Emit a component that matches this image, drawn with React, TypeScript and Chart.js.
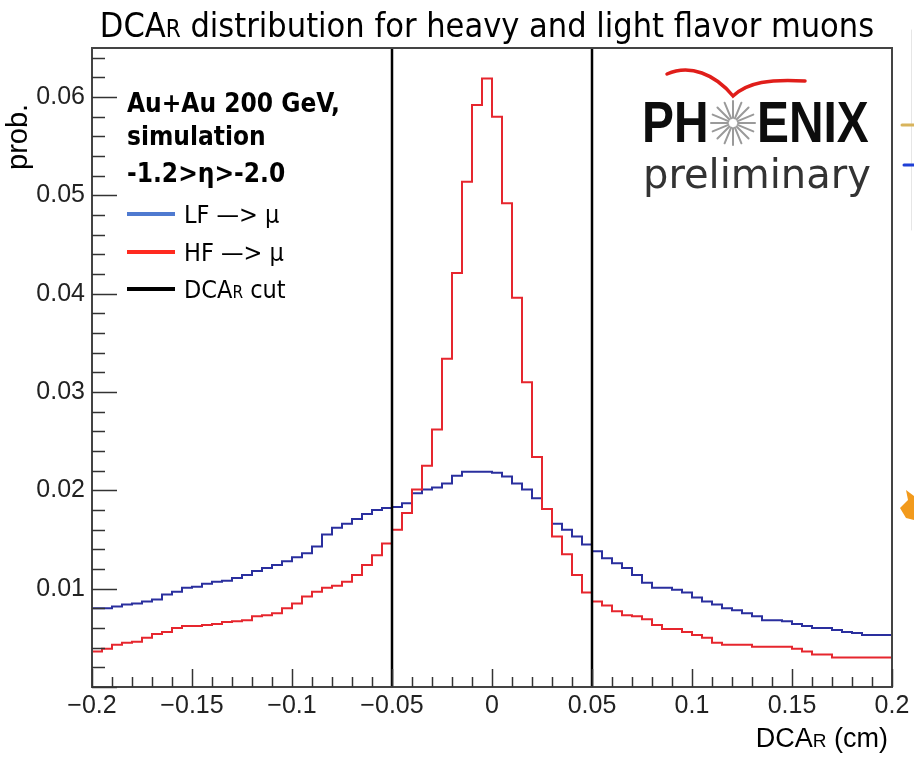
import React, { useEffect, useRef } from 'react';
import { Chart, registerables } from 'chart.js';

Chart.register(...registerables);

// ---- data ----
const BIN_START = -0.2;
const BIN_WIDTH = 0.005;

// LF -> mu (blue), 80 bins from -0.2 to 0.2
const lfValues = [
  0.0080, 0.0080, 0.0082, 0.0084, 0.0085, 0.0087, 0.0089, 0.0094, 0.0097, 0.0101,
  0.0102, 0.0105, 0.0107, 0.0108, 0.0111, 0.0114, 0.0118, 0.0121, 0.0124, 0.0128,
  0.0132, 0.0136, 0.0143, 0.0155, 0.0162, 0.0166, 0.0171, 0.0176, 0.0180, 0.0182,
  0.0183, 0.0187, 0.0197, 0.0201, 0.0203, 0.0207, 0.0215, 0.0219, 0.0219, 0.0219,
  0.0218, 0.0214, 0.0207, 0.0201, 0.0192, 0.0181, 0.0166, 0.0160, 0.0153, 0.0145,
  0.0138, 0.0131, 0.0126, 0.0121, 0.0114, 0.0106, 0.0101, 0.0101, 0.0099, 0.0096,
  0.0091, 0.0087, 0.0084, 0.0080, 0.0078, 0.0075, 0.0072, 0.0068, 0.0068, 0.0067,
  0.0064, 0.0062, 0.0060, 0.0060, 0.0058, 0.0056, 0.0055, 0.0053, 0.0053, 0.0053,
];

// HF -> mu (red)
const hfValues = [
  0.0036, 0.0039, 0.0043, 0.0045, 0.0046, 0.0050, 0.0054, 0.0056, 0.0060, 0.0062,
  0.0062, 0.0063, 0.0064, 0.0066, 0.0067, 0.0068, 0.0072, 0.0073, 0.0075, 0.0080,
  0.0085, 0.0092, 0.0097, 0.0101, 0.0103, 0.0107, 0.0114, 0.0124, 0.0134, 0.0146,
  0.0160, 0.0177, 0.0201, 0.0225, 0.0262, 0.0334, 0.0421, 0.0514, 0.0592, 0.0619,
  0.0580, 0.0492, 0.0396, 0.0310, 0.0234, 0.0181, 0.0153, 0.0135, 0.0114, 0.0096,
  0.0087, 0.0083, 0.0077, 0.0073, 0.0072, 0.0069, 0.0063, 0.0059, 0.0059, 0.0056,
  0.0053, 0.0050, 0.0045, 0.0043, 0.0043, 0.0043, 0.0041, 0.0041, 0.0041, 0.0041,
  0.0039, 0.0036, 0.0033, 0.0033, 0.0030, 0.0030, 0.0030, 0.0030, 0.0030, 0.0030,
];

const cutPositions = [-0.05, 0.05];

const X_MIN = -0.2;
const X_MAX = 0.2;
const Y_MIN = 0;
const Y_MAX = 0.065;

const xTickValues = [-0.2, -0.15, -0.1, -0.05, 0, 0.05, 0.1, 0.15, 0.2];
const xTickLabels = ['\u22120.2', '\u22120.15', '\u22120.1', '\u22120.05', '0', '0.05', '0.1', '0.15', '0.2'];
const yTickValues = [0.01, 0.02, 0.03, 0.04, 0.05, 0.06];
const yTickLabels = ['0.01', '0.02', '0.03', '0.04', '0.05', '0.06'];
const X_MINOR_STEP = 0.01;
const Y_MINOR_STEP = 0.002;

const titleMain = 'DCA';
const titleSub = 'R';
const titleRest = ' distribution for heavy and light flavor muons';
const infoLines = ['Au+Au 200 GeV,', 'simulation', '-1.2>\u03b7>-2.0'];
const legendLabels = ['LF \u2014> \u03bc', 'HF \u2014> \u03bc', 'cut'];

const BLUE = '#2a2f9e';
const RED = '#e6262e';
const LEGEND_BLUE = '#4f7ad0';
const LEGEND_RED = '#ff2a1f';

function histPoints(values: number[]) {
  const pts = values.map((v, i) => ({ x: BIN_START + i * BIN_WIDTH, y: v }));
  pts.push({ x: BIN_START + values.length * BIN_WIDTH, y: values[values.length - 1] });
  return pts;
}

const decorPlugin = {
  id: 'decor',
  afterDraw(chart: any) {
    const ctx = chart.ctx as CanvasRenderingContext2D;
    const xs = chart.scales.x;
    const ys = chart.scales.y;
    const { left, right, top, bottom } = chart.chartArea;
    ctx.save();

    // frame
    ctx.strokeStyle = '#444';
    ctx.lineWidth = 2;
    ctx.strokeRect(left, top, right - left, bottom - top);

    // x ticks (inside, from bottom)
    ctx.strokeStyle = '#333';
    ctx.lineWidth = 1.5;
    const nx = Math.round((X_MAX - X_MIN) / X_MINOR_STEP);
    for (let i = 0; i <= nx; i++) {
      const v = X_MIN + i * X_MINOR_STEP;
      const px = Math.round(xs.getPixelForValue(v)) + 0.5;
      const major = i % 5 === 0;
      ctx.beginPath();
      ctx.moveTo(px, bottom);
      ctx.lineTo(px, bottom - (major ? 18 : 10));
      ctx.stroke();
    }
    // y ticks (inside, from left)
    const ny = Math.floor((Y_MAX - Y_MIN) / Y_MINOR_STEP + 1e-6);
    for (let i = 0; i <= ny; i++) {
      const v = Y_MIN + i * Y_MINOR_STEP;
      const py = Math.round(ys.getPixelForValue(v)) + 0.5;
      const major = i % 5 === 0;
      ctx.beginPath();
      ctx.moveTo(left, py);
      ctx.lineTo(left + (major ? 25 : 13), py);
      ctx.stroke();
    }

    // title
    ctx.fillStyle = '#000';
    ctx.textBaseline = 'alphabetic';
    const tf = '34px "DejaVu Sans Condensed", "DejaVu Sans"';
    const tfs = '24px "DejaVu Sans Condensed", "DejaVu Sans"';
    ctx.font = tf;
    const w1 = ctx.measureText(titleMain).width;
    const w3 = ctx.measureText(titleRest).width;
    ctx.font = tfs;
    const w2 = ctx.measureText(titleSub).width;
    const tw = w1 + w2 + w3;
    const tx = 487 - tw / 2;
    const tyb = 37;
    ctx.font = tf;
    ctx.textAlign = 'left';
    ctx.fillText(titleMain, tx, tyb);
    ctx.font = tfs;
    ctx.fillText(titleSub, tx + w1, tyb);
    ctx.font = tf;
    ctx.fillText(titleRest, tx + w1 + w2, tyb);

    // axis titles
    const af = '27px "Liberation Sans", Arial';
    const afs = '19px "Liberation Sans", Arial';
    ctx.font = af;
    const aw1 = ctx.measureText('DCA').width;
    const aw3 = ctx.measureText(' (cm)').width;
    ctx.font = afs;
    const aw2 = ctx.measureText('R').width;
    const ax = 888 - (aw1 + aw2 + aw3);
    const ay = 747;
    ctx.font = af;
    ctx.fillText('DCA', ax, ay);
    ctx.font = afs;
    ctx.fillText('R', ax + aw1, ay);
    ctx.font = af;
    ctx.fillText(' (cm)', ax + aw1 + aw2, ay);

    ctx.save();
    ctx.translate(27, 170);
    ctx.rotate(-Math.PI / 2);
    ctx.font = '29px "Liberation Sans", Arial';
    ctx.fillText('prob.', 0, 0);
    ctx.restore();

    // info text
    ctx.font = 'bold 26px "DejaVu Sans Condensed", "DejaVu Sans"';
    const infoY = [112, 145, 182];
    infoLines.forEach((t, i) => ctx.fillText(t, 127, infoY[i]));

    // legend entries
    const legY = [214, 252, 289];
    const legC = [LEGEND_BLUE, LEGEND_RED, '#000'];
    ctx.lineWidth = 4;
    legY.forEach((y, i) => {
      ctx.strokeStyle = legC[i];
      ctx.beginPath();
      ctx.moveTo(127, y);
      ctx.lineTo(175, y);
      ctx.stroke();
    });
    const lf = '25px "DejaVu Sans Condensed", "DejaVu Sans"';
    ctx.font = lf;
    ctx.fillStyle = '#000';
    ctx.fillText(legendLabels[0], 184, legY[0] + 9);
    ctx.fillText(legendLabels[1], 184, legY[1] + 9);
    const d1 = ctx.measureText('DCA').width;
    ctx.fillText('DCA', 184, legY[2] + 9);
    ctx.font = '17px "DejaVu Sans Condensed", "DejaVu Sans"';
    const d2 = ctx.measureText('R').width;
    ctx.fillText('R', 184 + d1, legY[2] + 9);
    ctx.font = lf;
    ctx.fillText(' ' + legendLabels[2], 184 + d1 + d2, legY[2] + 9);

    // PHENIX logo
    ctx.strokeStyle = '#e01e1a';
    ctx.lineWidth = 3.5;
    ctx.lineCap = 'round';
    ctx.beginPath();
    ctx.moveTo(667, 74);
    ctx.bezierCurveTo(690, 64, 715, 74, 733, 96);
    ctx.bezierCurveTo(748, 82, 770, 79, 805, 81);
    ctx.stroke();

    ctx.fillStyle = '#0d0d0d';
    ctx.font = 'bold 57px "Liberation Sans", Arial';
    ctx.save();
    ctx.translate(642, 142);
    ctx.scale(0.84, 1);
    ctx.fillText('PH', 0, 0);
    ctx.restore();
    ctx.save();
    ctx.translate(757, 142);
    ctx.scale(0.84, 1);
    ctx.fillText('ENIX', 0, 0);
    ctx.restore();
    // starburst
    ctx.strokeStyle = '#9a9a9a';
    ctx.lineWidth = 2;
    const cx = 733;
    const cy = 123;
    for (let k = 0; k < 16; k++) {
      const ang = (k * Math.PI) / 8;
      ctx.beginPath();
      ctx.moveTo(cx + Math.cos(ang) * 5, cy + Math.sin(ang) * 5);
      ctx.lineTo(cx + Math.cos(ang) * 22, cy + Math.sin(ang) * 22);
      ctx.stroke();
    }
    ctx.font = '40px "DejaVu Sans", sans-serif';
    ctx.fillStyle = '#333';
    ctx.fillText('preliminary', 643, 188);

    // cropped neighbour panel remnants at right edge
    ctx.strokeStyle = '#e6e6e6';
    ctx.lineWidth = 1;
    ctx.beginPath();
    ctx.moveTo(911.5, 30);
    ctx.lineTo(911.5, 230);
    ctx.stroke();
    ctx.lineWidth = 3;
    ctx.strokeStyle = '#d8b45c';
    ctx.beginPath();
    ctx.moveTo(902, 125);
    ctx.lineTo(914, 125);
    ctx.stroke();
    ctx.strokeStyle = '#1f3fd6';
    ctx.beginPath();
    ctx.moveTo(904, 165);
    ctx.lineTo(914, 165);
    ctx.stroke();
    ctx.fillStyle = '#f29a1c';
    ctx.beginPath();
    ctx.moveTo(900, 508);
    ctx.lineTo(908, 500);
    ctx.lineTo(906, 490);
    ctx.lineTo(914, 496);
    ctx.lineTo(914, 520);
    ctx.lineTo(906, 518);
    ctx.closePath();
    ctx.fill();

    ctx.restore();
  },
};

export default function App() {
  const canvasRef = useRef<HTMLCanvasElement | null>(null);

  useEffect(() => {
    if (!canvasRef.current) return;
    const cutSets = cutPositions.map((c) => ({
      label: 'cut',
      data: [
        { x: c, y: Y_MIN },
        { x: c, y: Y_MAX },
      ],
      borderColor: '#000',
      borderWidth: 2.5,
      pointRadius: 0,
      fill: false,
    }));
    const chart = new Chart(canvasRef.current, {
      type: 'line',
      data: {
        datasets: [
          ...cutSets,
          {
            label: 'HF -> mu',
            data: histPoints(hfValues),
            borderColor: RED,
            borderWidth: 2,
            pointRadius: 0,
            stepped: true,
            fill: false,
          },
          {
            label: 'LF -> mu',
            data: histPoints(lfValues),
            borderColor: BLUE,
            borderWidth: 2,
            pointRadius: 0,
            stepped: true,
            fill: false,
          },
        ],
      } as any,
      options: {
        responsive: false,
        animation: false,
        devicePixelRatio: 1,
        layout: { padding: { left: 8, right: 22, top: 48, bottom: 24 } },
        plugins: {
          legend: { display: false },
          title: { display: false },
          tooltip: { enabled: false },
        },
        scales: {
          x: {
            type: 'linear',
            min: X_MIN,
            max: X_MAX,
            grid: { display: false, drawTicks: false },
            border: { display: false },
            afterBuildTicks: (s: any) => {
              s.ticks = xTickValues.map((v) => ({ value: v }));
            },
            afterFit: (s: any) => {
              s.height = 50;
            },
            ticks: {
              autoSkip: false,
              maxRotation: 0,
              minRotation: 0,
              padding: 4,
              color: '#222',
              font: { family: '"Liberation Sans", Arial', size: 25 },
              callback: (v: any) => {
                const i = xTickValues.findIndex((t) => Math.abs(t - Number(v)) < 1e-9);
                return i >= 0 ? xTickLabels[i] : '';
              },
            },
          },
          y: {
            type: 'linear',
            min: Y_MIN,
            max: Y_MAX,
            grid: { display: false, drawTicks: false },
            border: { display: false },
            afterBuildTicks: (s: any) => {
              s.ticks = yTickValues.map((v) => ({ value: v }));
            },
            afterFit: (s: any) => {
              s.width = 84;
            },
            ticks: {
              autoSkip: false,
              padding: 7,
              color: '#222',
              font: { family: '"Liberation Sans", Arial', size: 25 },
              callback: (v: any) => {
                const i = yTickValues.findIndex((t) => Math.abs(t - Number(v)) < 1e-9);
                return i >= 0 ? yTickLabels[i] : '';
              },
            },
          },
        },
      } as any,
      plugins: [decorPlugin],
    });
    return () => chart.destroy();
  }, []);

  return (
    <div style={{ position: 'absolute', left: 0, top: 0, width: 914, height: 761, background: '#fff' }}>
      <canvas ref={canvasRef} width={914} height={761} />
    </div>
  );
}
